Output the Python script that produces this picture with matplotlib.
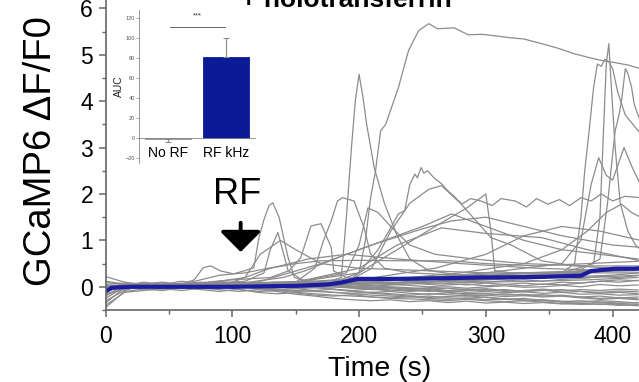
import numpy as np
import matplotlib
matplotlib.use("Agg")
import matplotlib.pyplot as plt
from matplotlib.ticker import MultipleLocator

plt.rcParams['font.family'] = ['Liberation Sans', 'DejaVu Sans']

# ---- baseline traces, shared time grid (s) ----
base_t = [0, 15, 30, 45, 60, 75, 90, 105, 120, 135, 150, 165, 180, 195, 210,
          225, 240, 255, 270, 285, 300, 315, 330, 345, 360, 375, 390, 405, 420]
base_1 = [-0.35, -0.02, 0.03, 0.00, 0.05, 0.02, -0.03, 0.04, 0.00, -0.05, -0.08, -0.10, -0.12, -0.15, -0.18,
          -0.20, -0.22, -0.20, -0.24, -0.25, -0.22, -0.26, -0.28, -0.30, -0.32, -0.30, -0.33, -0.35, -0.34]
base_2 = [-0.20, 0.05, 0.08, 0.02, 0.06, 0.10, 0.04, 0.00, -0.03, -0.06, -0.04, -0.08, -0.05, -0.10, -0.12,
          -0.10, -0.14, -0.16, -0.13, -0.17, -0.18, -0.15, -0.19, -0.22, -0.20, -0.24, -0.27, -0.25, -0.28]
base_3 = [0.22, 0.10, 0.05, 0.09, 0.03, 0.07, 0.12, 0.06, 0.02, 0.00, 0.03, 0.05, 0.08, 0.06, 0.02,
          0.00, -0.02, -0.05, -0.03, -0.06, -0.04, -0.08, -0.10, -0.07, -0.12, -0.10, -0.14, -0.12, -0.15]
base_4 = [-0.10, 0.00, -0.04, 0.06, 0.00, -0.05, 0.02, -0.06, -0.10, -0.08, -0.12, -0.15, -0.18, -0.20, -0.22,
          -0.25, -0.26, -0.28, -0.30, -0.27, -0.30, -0.32, -0.30, -0.33, -0.36, -0.38, -0.37, -0.40, -0.39]
base_5 = [-0.05, 0.03, 0.06, 0.10, 0.05, 0.08, 0.00, 0.05, 0.08, 0.04, 0.02, 0.06, 0.10, 0.12, 0.10,
          0.08, 0.12, 0.10, 0.14, 0.12, 0.10, 0.13, 0.15, 0.12, 0.16, 0.18, 0.22, 0.20, 0.24]
base_6 = [-0.45, -0.10, -0.05, -0.08, -0.02, -0.06, -0.10, -0.05, -0.12, -0.15, -0.13, -0.18, -0.20, -0.17, -0.22,
          -0.24, -0.21, -0.25, -0.27, -0.24, -0.28, -0.26, -0.30, -0.28, -0.31, -0.33, -0.30, -0.32, -0.35]
base_7 = [0.05, 0.08, 0.02, -0.02, 0.04, 0.00, 0.06, 0.10, 0.05, 0.02, 0.00, -0.02, 0.00, 0.04, 0.02,
          0.05, 0.03, 0.00, 0.04, 0.06, 0.02, 0.05, 0.08, 0.05, 0.10, 0.08, 0.12, 0.15, 0.13]
base_8 = [-0.15, -0.05, 0.00, 0.05, 0.08, 0.03, 0.06, 0.02, 0.05, 0.00, -0.04, -0.02, -0.06, -0.08, -0.05,
          -0.09, -0.06, -0.10, -0.08, -0.12, -0.10, -0.13, -0.11, -0.14, -0.12, -0.16, -0.15, -0.18, -0.17]
base_9 = [0.00, 0.02, 0.10, 0.05, 0.12, 0.06, 0.02, -0.02, 0.03, 0.06, 0.10, 0.08, 0.04, 0.00, -0.04,
          -0.07, -0.10, -0.08, -0.12, -0.15, -0.14, -0.18, -0.16, -0.20, -0.18, -0.22, -0.20, -0.24, -0.22]
base_10 = [-0.25, 0.00, -0.02, 0.03, -0.03, 0.02, -0.02, 0.03, -0.02, 0.02, 0.05, 0.10, 0.14, 0.18, 0.16,
           0.20, 0.18, 0.22, 0.20, 0.24, 0.22, 0.26, 0.24, 0.22, 0.26, 0.30, 0.34, 0.36, 0.38]
base_11 = [0.10, 0.04, 0.00, -0.05, 0.02, 0.05, 0.08, 0.03, 0.00, 0.04, 0.06, 0.03, 0.00, -0.03, -0.06,
           -0.04, -0.08, -0.06, -0.10, -0.08, -0.06, -0.10, -0.08, -0.05, -0.09, -0.06, -0.08, -0.05, -0.07]
base_12 = [-0.30, -0.08, 0.04, 0.00, -0.04, 0.03, 0.00, 0.02, 0.08, 0.10, 0.05, 0.00, -0.05, -0.10, -0.14,
           -0.17, -0.20, -0.23, -0.21, -0.19, -0.23, -0.27, -0.25, -0.29, -0.33, -0.36, -0.34, -0.38, -0.41]
base_13 = [0.00, 0.04, 0.02, 0.06, 0.03, 0.00, 0.05, 0.02, 0.00, -0.02, 0.00, 0.02, 0.00, -0.02, -0.05,
           -0.02, -0.06, -0.04, -0.08, -0.05, -0.09, -0.06, -0.10, -0.08, -0.06, -0.10, -0.12, -0.09, -0.11]
base_14 = [-0.08, 0.02, 0.05, 0.00, 0.04, 0.07, 0.02, 0.06, 0.03, 0.05, 0.08, 0.06, 0.03, 0.05, 0.08,
           0.06, 0.09, 0.05, 0.07, 0.04, 0.08, 0.05, 0.02, 0.06, 0.04, 0.08, 0.12, 0.10, 0.14]
base_15 = [-0.40, -0.12, -0.08, -0.04, -0.08, -0.03, -0.06, -0.10, -0.06, -0.10, -0.16, -0.20, -0.25, -0.28, -0.30,
           -0.28, -0.32, -0.30, -0.34, -0.31, -0.35, -0.33, -0.36, -0.34, -0.37, -0.35, -0.38, -0.36, -0.38]
base_16 = [0.12, 0.06, 0.03, 0.00, 0.05, 0.02, -0.02, 0.01, 0.04, 0.00, -0.03, 0.00, 0.03, 0.00, -0.02,
           -0.01, -0.04, -0.02, 0.00, -0.03, 0.00, 0.02, -0.01, 0.00, 0.03, 0.00, 0.05, 0.02, 0.04]
base_17 = [-0.18, -0.04, 0.00, 0.03, -0.02, 0.02, 0.05, 0.00, -0.04, -0.07, -0.10, -0.08, -0.12, -0.14, -0.12,
           -0.15, -0.18, -0.15, -0.17, -0.20, -0.18, -0.21, -0.19, -0.17, -0.20, -0.22, -0.25, -0.23, -0.26]
base_traces = [base_1, base_2, base_3, base_4, base_5, base_6, base_7, base_8, base_9,
               base_10, base_11, base_12, base_13, base_14, base_15, base_16, base_17]

# ---- responding cells (time, dF/F0) ----
cell1_t = [0, 20, 40, 60, 70, 77, 83, 91, 101, 109, 117, 121, 125, 129, 132, 137, 144, 149, 160, 180, 200, 230, 260, 300, 340, 380, 420]
cell1_v = [0.0, 0.05, 0.02, 0.06, 0.15, 0.41, 0.45, 0.34, 0.28, 0.34, 0.41, 1.06, 1.45, 1.75, 1.81, 1.49, 0.63, 0.2, 0.1, 0.05, 0.0, 0.05, 0.08, 0.1, 0.12, 0.15, 0.2]
cell2_t = [0, 30, 60, 90, 110, 125, 130, 136, 144, 155, 170, 200, 250, 300, 350, 400, 420]
cell2_v = [0.02, 0.05, 0.0, 0.08, 0.12, 0.3, 0.8, 1.17, 0.35, 0.15, 0.1, 0.05, 0.1, 0.15, 0.2, 0.25, 0.3]
cell3_t = [0, 40, 80, 100, 130, 145, 154, 162, 170, 178, 180, 190, 220, 260, 300, 350, 420]
cell3_v = [0.0, 0.03, 0.1, 0.15, 0.2, 0.35, 0.63, 1.31, 1.36, 0.85, 0.34, 0.2, 0.15, 0.2, 0.25, 0.3, 0.35]
cell4_t = [0, 50, 100, 150, 165, 172, 178, 183, 187, 196, 204, 209, 220, 240, 280, 330, 380, 420]
cell4_v = [-0.02, 0.03, 0.05, 0.1, 0.4, 1.0, 1.42, 1.85, 1.92, 1.85, 1.27, 0.71, 0.4, 0.3, 0.25, 0.3, 0.35, 0.4]
cell5_t = [0, 60, 120, 160, 180, 186, 190, 194, 197, 200, 203, 206, 212, 220, 230, 240, 255, 280, 320, 380, 420]
cell5_v = [0.0, 0.03, 0.05, 0.1, 0.15, 0.2, 1.5, 3.0, 4.0, 4.58, 4.1, 3.5, 2.56, 1.8, 1.1, 0.6, 0.35, 0.25, 0.2, 0.2, 0.25]
cell6_t = [0, 60, 120, 160, 190, 200, 205, 209, 213, 217, 221, 231, 239, 247, 255, 262, 275, 286, 297, 307, 318, 330, 344, 357, 370, 380, 389, 402, 412, 422]
cell6_v = [0.0, -0.02, 0.02, 0.05, 0.1, 0.3, 1.0, 1.9, 2.5, 3.36, 3.5, 4.29, 5.09, 5.52, 5.67, 5.56, 5.58, 5.43, 5.44, 5.41, 5.37, 5.34, 5.24, 5.14, 5.02, 4.95, 4.89, 4.83, 4.78, 4.70]
cell7_t = [0, 100, 180, 200, 215, 225, 231, 236, 240, 244, 246, 249, 251, 254, 259, 265, 270, 275, 281, 288, 296, 305, 312, 323, 332, 340, 349, 358, 366, 375, 383, 391, 400, 410, 422]
cell7_v = [0.0, 0.05, 0.1, 0.3, 0.8, 1.27, 1.57, 1.64, 2.2, 2.43, 2.35, 2.57, 2.45, 2.5, 2.35, 2.22, 2.07, 1.95, 1.78, 1.9, 1.85, 1.75, 1.9, 1.85, 1.72, 1.9, 1.78, 1.88, 1.75, 1.92, 1.85, 2.0, 1.85, 1.95, 1.92]
cell8_t = [0, 100, 190, 210, 225, 240, 255, 265, 280, 304, 320, 344, 370, 400, 422]
cell8_v = [0.0, 0.05, 0.1, 0.4, 1.2, 1.8, 2.1, 2.18, 1.8, 1.06, 0.9, 0.56, 0.45, 0.4, 0.38]
cell9_t = [0, 100, 130, 150, 170, 200, 240, 272, 300, 340, 380, 420]
cell9_v = [0.0, 0.1, 0.4, 0.5, 0.56, 0.57, 0.56, 0.56, 0.5, 0.45, 0.5, 0.55]
cell10_t = [0, 100, 140, 157, 190, 220, 250, 273, 290, 310, 330, 360, 390, 420]
cell10_v = [0.0, 0.05, 0.2, 0.34, 0.7, 1.0, 1.3, 1.57, 1.4, 1.2, 1.0, 0.8, 0.7, 0.6]
cell11_t = [0, 120, 170, 210, 250, 273, 300, 330, 360, 400, 422]
cell11_v = [0.02, 0.1, 0.5, 0.9, 1.25, 1.42, 1.5, 1.3, 1.1, 0.9, 0.85]
cell12_t = [0, 150, 200, 230, 260, 285, 300, 304, 307, 320, 350, 400, 422]
cell12_v = [0.0, 0.1, 0.3, 0.8, 1.3, 1.7, 2.0, 1.2, 0.35, 0.3, 0.3, 0.35, 0.4]
cell13_t = [0, 150, 250, 320, 360, 370, 375, 378, 382, 385, 388, 391, 394, 397, 400, 404, 410, 416, 422]
cell13_v = [0.0, 0.05, 0.1, 0.2, 0.3, 0.5, 1.5, 2.5, 3.5, 4.3, 4.8, 4.75, 4.9, 4.85, 4.7, 4.2, 3.7, 3.5, 3.3]
cell14_t = [0, 200, 300, 360, 385, 390, 393, 395, 397, 399, 402, 406, 412, 418, 422]
cell14_v = [0.0, 0.1, 0.2, 0.3, 0.5, 1.5, 3.5, 4.8, 5.24, 4.29, 3.0, 1.8, 1.2, 0.9, 0.8]
cell15_t = [0, 200, 300, 370, 390, 396, 402, 405, 407, 410, 412, 415, 417, 420, 422]
cell15_v = [0.0, 0.05, 0.15, 0.3, 0.6, 1.8, 3.36, 3.7, 4.0, 4.7, 4.6, 4.29, 3.94, 3.7, 3.58]
cell16_t = [0, 200, 300, 360, 375, 383, 389, 395, 400, 409, 415, 422]
cell16_v = [0.0, 0.1, 0.3, 0.5, 1.0, 2.2, 2.78, 2.4, 2.3, 3.0, 2.6, 2.2]
cell17_t = [0, 200, 280, 330, 360, 380, 395, 407, 415, 422]
cell17_v = [0.0, 0.1, 0.3, 0.5, 0.8, 1.2, 1.6, 1.78, 1.6, 1.5]
cell18_t = [0, 200, 260, 300, 330, 360, 390, 422]
cell18_v = [0.0, 0.15, 0.4, 0.7, 1.1, 1.3, 1.2, 1.0]
cell19_t = [0, 150, 200, 230, 265, 300, 344, 380, 422]
cell19_v = [0.0, 0.1, 0.4, 0.9, 1.27, 1.15, 1.06, 0.8, 0.56]
cell20_t = [0, 150, 190, 200, 207, 215, 225, 240, 260, 290, 330, 380, 422]
cell20_v = [0.0, 0.1, 0.3, 0.9, 1.7, 1.6, 1.3, 0.9, 0.7, 0.6, 0.5, 0.45, 0.45]
cell21_t = [0, 60, 90, 110, 138, 160, 190, 230, 280, 340, 400, 422]
cell21_v = [0.0, 0.05, 0.25, 0.3, 0.45, 0.6, 0.7, 0.6, 0.5, 0.4, 0.35, 0.35]
cell22_t = [0, 80, 110, 122, 138, 150, 170, 200, 250, 300, 360, 422]
cell22_v = [0.0, 0.08, 0.2, 0.7, 1.0, 0.8, 0.5, 0.4, 0.35, 0.3, 0.3, 0.3]
cells = [(cell1_t, cell1_v), (cell2_t, cell2_v), (cell3_t, cell3_v), (cell4_t, cell4_v),
         (cell5_t, cell5_v), (cell6_t, cell6_v), (cell7_t, cell7_v), (cell8_t, cell8_v),
         (cell9_t, cell9_v), (cell10_t, cell10_v), (cell11_t, cell11_v), (cell12_t, cell12_v),
         (cell13_t, cell13_v), (cell14_t, cell14_v), (cell15_t, cell15_v), (cell16_t, cell16_v),
         (cell17_t, cell17_v), (cell18_t, cell18_v), (cell19_t, cell19_v), (cell20_t, cell20_v),
         (cell21_t, cell21_v), (cell22_t, cell22_v)]

# ---- mean trace ----
mean_t = [0, 5, 20, 50, 100, 150, 175, 186, 199, 225, 260, 296, 340, 375, 383, 402, 417, 422]
mean_v = [-0.1, -0.02, 0.0, 0.0, 0.0, 0.02, 0.05, 0.09, 0.17, 0.17, 0.18, 0.2, 0.21, 0.24, 0.34, 0.39, 0.39, 0.4]

# ---- inset AUC ----
auc_labels = ['No RF', 'RF kHz']
auc_vals = [-0.5, 81]
auc_err_lo = [3.5, 0]
auc_err_hi = [0, 19]

rf_time = 106.6

fig = plt.figure(figsize=(6.39, 3.82), dpi=100)
ax = fig.add_axes([105.5 / 639, 1 - 310 / 382, 1 - 105.5 / 639, 310 / 382])

gray = '#8c8c8c'
for vals in base_traces:
    ax.plot(base_t, vals, color=gray, lw=0.9)
for t, v in cells:
    ax.plot(t, v, color=gray, lw=0.9)
ax.plot(mean_t, mean_v, color='#1c1ca0', lw=3.0, solid_capstyle='butt')

ax.set_xlim(0, 420.8)
ax.set_ylim(-0.5, 6.18)
ax.xaxis.set_major_locator(MultipleLocator(100))
ax.xaxis.set_minor_locator(MultipleLocator(50))
ax.yaxis.set_major_locator(MultipleLocator(1))
ax.yaxis.set_minor_locator(MultipleLocator(0.5))
for side in ['top', 'right']:
    ax.spines[side].set_visible(False)
for side in ['left', 'bottom']:
    ax.spines[side].set_color('#666666')
    ax.spines[side].set_linewidth(1.2)
ax.tick_params(which='major', length=5, width=1.1, color='#666666', labelsize=16.5, pad=4)
ax.tick_params(which='minor', length=3, width=1.0, color='#666666')
ax.tick_params(axis='x', which='major', pad=6)

# RF arrow
ax.annotate('', xy=(rf_time, 0.75), xytext=(rf_time, 1.38),
            arrowprops=dict(arrowstyle='-|>,head_length=0.42,head_width=0.42',
                            mutation_scale=30, lw=2.8, color='black',
                            shrinkA=0, shrinkB=0))
ax.text(104, 1.98, 'RF', fontsize=26, ha='center', va='center')

fig.text(41 / 639, 1 - 151 / 382, 'GCaMP6 \u0394F/F0', rotation=90, fontsize=27.5,
         ha='center', va='center')
fig.text(380 / 639, 1 - 376 / 382, 'Time (s)', fontsize=20.5, ha='center', va='baseline')
fig.text(346 / 639, 1 - 7 / 382, '+ holotransferrin', fontsize=19, fontweight='bold',
         ha='center', va='baseline')

# inset
axi = fig.add_axes([139 / 639, 1 - 163 / 382, 116 / 639, 153 / 382])
axi.bar([0, 1], auc_vals, width=0.8, color=['white', '#0b1b96'],
        edgecolor=['#888888', '#0b1b96'], linewidth=0.6,
        yerr=[auc_err_lo, auc_err_hi], ecolor='#888888', capsize=2,
        error_kw=dict(elinewidth=0.8, capthick=0.8))
axi.set_xlim(-0.5, 1.5)
axi.set_ylim(-25, 128)
axi.set_yticks([-20, 0, 20, 40, 60, 80, 100, 120])
axi.set_xticks([0, 1])
axi.set_xticklabels(auc_labels, fontsize=5.5, fontweight='bold', color='#222222')
axi.spines['top'].set_visible(False)
axi.spines['right'].set_visible(False)
axi.spines['bottom'].set_position(('data', 0))
axi.spines['left'].set_color('#888888')
axi.spines['bottom'].set_color('#888888')
axi.spines['left'].set_linewidth(0.6)
axi.spines['bottom'].set_linewidth(0.6)
axi.tick_params(axis='y', length=2, width=0.5, color='#888888', labelsize=4, labelcolor='#555555', pad=1)
axi.tick_params(axis='x', length=0, pad=6)
axi.set_ylabel('AUC', fontsize=7.5, labelpad=1, color='#222222')
axi.plot([0.03, 0.98], [111, 111], color='#666666', lw=0.7)
axi.text(0.5, 122, '***', fontsize=5.5, ha='center', va='center', color='#333333')

fig.savefig('out.png', dpi=100)
